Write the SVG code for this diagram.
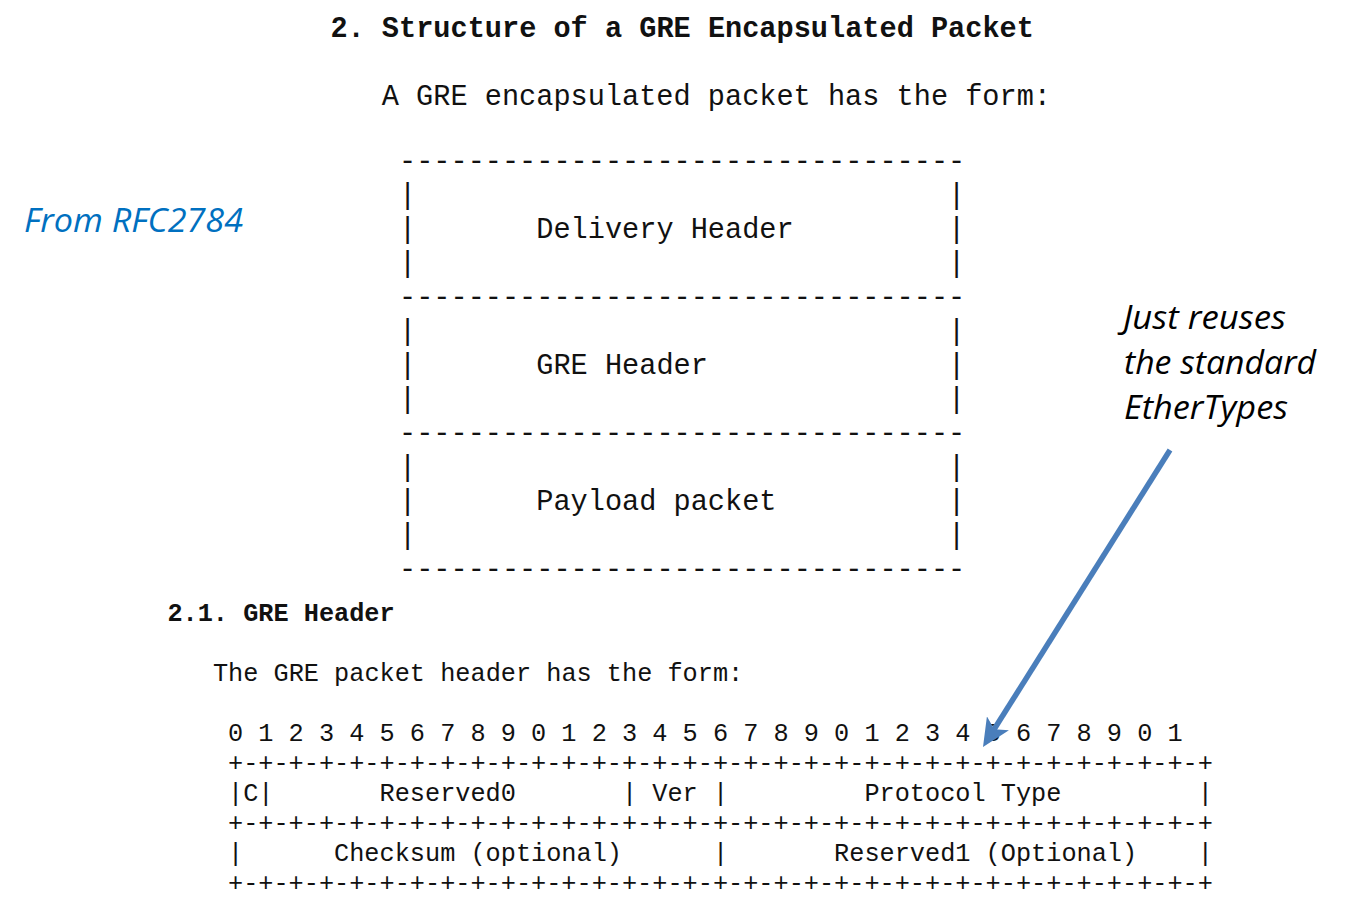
<svg xmlns="http://www.w3.org/2000/svg" width="1358" height="900" viewBox="0 0 1358 900">
<style>
  text { white-space: pre; }
  .m1 { font-family: "Liberation Mono", "Courier New", monospace; font-size: 28.6px; fill: #111; }
  .m2 { font-family: "Liberation Mono", "Courier New", monospace; font-size: 25.25px; fill: #111; }
  .b { font-weight: bold; }
  .note { font-family: "Open Sans", "Noto Sans", sans-serif; font-style: italic; font-size: 32px; }
  .blue { fill: #0070C0; }
  .blk { fill: #000; }
  .arrow { stroke: #4A7EBB; stroke-width: 5.5; fill: none; }
</style>
<defs>
  <marker id="head" markerUnits="userSpaceOnUse" viewBox="0 0 28 26" refX="16" refY="13" markerWidth="28" markerHeight="26" orient="auto">
    <path d="M0,0 L28,13 L0,26 L7,13 Z" fill="#4A7EBB"/>
  </marker>
</defs>
<rect width="1358" height="900" fill="#fff"/>

<g id="title">
  <text class="m1 b" x="330.4" y="37" xml:space="preserve">2. Structure of a GRE Encapsulated Packet</text>
  <text class="m1" x="381.8" y="105" xml:space="preserve">A GRE encapsulated packet has the form:</text>
</g>

<g id="packet-structure">
  <text class="m1" x="399" y="170" xml:space="preserve">---------------------------------</text>
  <g id="delivery-header">
    <text class="m1" x="399" y="204" xml:space="preserve">|                               |</text>
    <text class="m1" x="399" y="238" xml:space="preserve">|       Delivery Header         |</text>
    <text class="m1" x="399" y="272" xml:space="preserve">|                               |</text>
  </g>
  <text class="m1" x="399" y="306" xml:space="preserve">---------------------------------</text>
  <g id="gre-header">
    <text class="m1" x="399" y="340" xml:space="preserve">|                               |</text>
    <text class="m1" x="399" y="374" xml:space="preserve">|       GRE Header              |</text>
    <text class="m1" x="399" y="408" xml:space="preserve">|                               |</text>
  </g>
  <text class="m1" x="399" y="442" xml:space="preserve">---------------------------------</text>
  <g id="payload-packet">
    <text class="m1" x="399" y="476" xml:space="preserve">|                               |</text>
    <text class="m1" x="399" y="510" xml:space="preserve">|       Payload packet          |</text>
    <text class="m1" x="399" y="544" xml:space="preserve">|                               |</text>
  </g>
  <text class="m1" x="399" y="578" xml:space="preserve">---------------------------------</text>
</g>

<g id="gre-header-section">
  <text class="m2 b" x="167.4" y="621" xml:space="preserve">2.1. GRE Header</text>
  <text class="m2" x="212.9" y="681" xml:space="preserve">The GRE packet header has the form:</text>
</g>

<g id="gre-header-format">
  <text class="m2" x="228" y="741" xml:space="preserve">0 1 2 3 4 5 6 7 8 9 0 1 2 3 4 5 6 7 8 9 0 1 2 3 4 5 6 7 8 9 0 1</text>
  <text class="m2" x="228" y="771" xml:space="preserve">+-+-+-+-+-+-+-+-+-+-+-+-+-+-+-+-+-+-+-+-+-+-+-+-+-+-+-+-+-+-+-+-+</text>
  <text class="m2" x="228" y="801" xml:space="preserve">|C|       Reserved0       | Ver |         Protocol Type         |</text>
  <text class="m2" x="228" y="831" xml:space="preserve">+-+-+-+-+-+-+-+-+-+-+-+-+-+-+-+-+-+-+-+-+-+-+-+-+-+-+-+-+-+-+-+-+</text>
  <text class="m2" x="228" y="861" xml:space="preserve">|      Checksum (optional)      |       Reserved1 (Optional)    |</text>
  <text class="m2" x="228" y="891" xml:space="preserve">+-+-+-+-+-+-+-+-+-+-+-+-+-+-+-+-+-+-+-+-+-+-+-+-+-+-+-+-+-+-+-+-+</text>
</g>

<g id="source-note">
  <text class="note blue" x="24" y="232" textLength="219" lengthAdjust="spacingAndGlyphs">From RFC2784</text>
</g>

<g id="ethertype-note">
  <text class="note blk" x="1123" y="329" textLength="163" lengthAdjust="spacingAndGlyphs">Just reuses</text>
  <text class="note blk" x="1124" y="374" textLength="192" lengthAdjust="spacingAndGlyphs">the standard</text>
  <text class="note blk" x="1124" y="419" textLength="164" lengthAdjust="spacingAndGlyphs">EtherTypes</text>
</g>

<g id="connectors">
  <line class="arrow" x1="1170" y1="450" x2="989.4" y2="736.8" marker-end="url(#head)"/>
</g>
</svg>
